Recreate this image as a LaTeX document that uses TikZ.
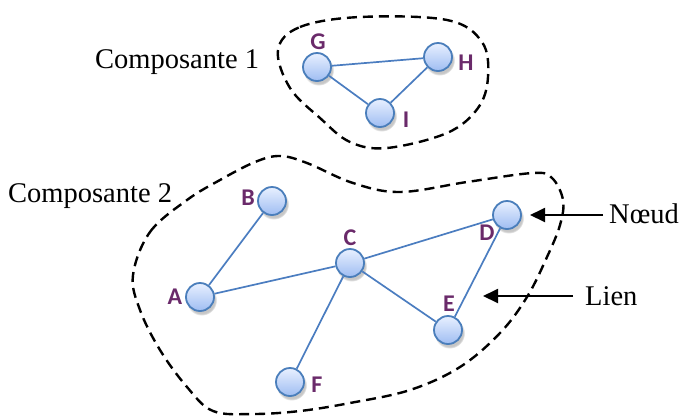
\documentclass[tikz,border=0pt]{standalone}
\usepackage{fontspec}
\setmainfont{Liberation Serif}
\newfontfamily\lblfont{Carlito}
\usetikzlibrary{arrows.meta,shadows,calc}
\definecolor{nodeborder}{HTML}{4A7EBB}
\definecolor{nodetop}{HTML}{E8F0FF}
\definecolor{nodebot}{HTML}{9FBDF2}
\definecolor{edgecol}{HTML}{4B7DC0}
\definecolor{lblcol}{HTML}{6A2A6A}
\begin{document}
\begin{tikzpicture}[x=1pt,y=-1pt,
  vert/.style={circle, draw=nodeborder, line width=1.8pt, minimum size=28pt, inner sep=0pt,
    top color=nodetop, bottom color=nodebot,
    circular drop shadow={shadow xshift=1.5pt, shadow yshift=-3pt, opacity=0.45}},
  lbl/.style={text=lblcol, font=\lblfont\bfseries\fontsize{24}{24}\selectfont, inner sep=0pt},
  edge/.style={draw=edgecol, line width=1.7pt},
  blob/.style={draw=black, line width=2.4pt, dash pattern=on 10pt off 6pt},
  caption/.style={font=\fontsize{28.5}{30}\selectfont, inner sep=0pt, anchor=base west},
  arr/.style={draw=black, line width=1.9pt, -{Triangle[length=15pt,width=14pt]}}
]
\useasboundingbox (0,0) rectangle (684,416);

% dashed components
\draw[blob] plot[smooth cycle, tension=0.6] coordinates {
  (278,50) (300,27) (360,17) (447,20) (482,42) (488,77) (478,108)
  (447,133) (387,148) (350,142) (320,118) (290,88)};
\draw[blob] plot[smooth cycle, tension=0.6] coordinates {
  (133,275) (150,232) (187,200) (220,180) (255,162) (280,156) (307,163)
  (353,183) (400,192) (467,182) (533,173) (552,178) (563,200) (560,225)
  (547,257) (527,297) (500,333) (460,367) (410,390) (350,403) (300,411)
  (253,414) (213,411) (187,387) (160,350) (140,310)};

% vertices
\node[vert] (G) at (317,67) {};
\node[vert] (H) at (438,57) {};
\node[vert] (I) at (380,113) {};
\node[vert] (B) at (272,201) {};
\node[vert] (A) at (200,297) {};
\node[vert] (C) at (350,263) {};
\node[vert] (D) at (507,215) {};
\node[vert] (E) at (448,330) {};
\node[vert] (F) at (290,382) {};

% edges
\draw[edge] (G) -- (H);
\draw[edge] (G) -- (I);
\draw[edge] (I) -- (H);
\draw[edge] (B) -- (A);
\draw[edge] (A) -- (C);
\draw[edge] (C) -- (D);
\draw[edge] (C) -- (E);
\draw[edge] (C) -- (F);
\draw[edge] (D) -- (E);

% vertex labels
\node[lbl] (lG) at (318,42) {G};
\node[lbl] (lH) at (466,63) {H};
\node[lbl] (lI) at (406,120) {I};
\node[lbl] (lB) at (248,198) {B};
\node[lbl] (lA) at (175,297) {A};
\node[lbl] (lC) at (350,238) {C};
\node[lbl] (lD) at (487,233) {D};
\node[lbl] (lE) at (449,304) {E};
\node[lbl] (lF) at (317,385) {F};

% captions
\node[caption] (comp1) at (95,68) {Composante 1};
\node[caption] (comp2) at (8,202) {Composante 2};
\node[caption] (noeud) at (609,223) {Nœud};
\node[caption] (lien) at (585,305) {Lien};

\coordinate (dtip) at (530,215);
\coordinate (ltip) at (483,296);
\draw[arr] ($(dtip -| noeud.west)+(-6,0)$) -- (dtip);
\draw[arr] ($(ltip -| lien.west)+(-12,0)$) -- (ltip);
\end{tikzpicture}
\end{document}
